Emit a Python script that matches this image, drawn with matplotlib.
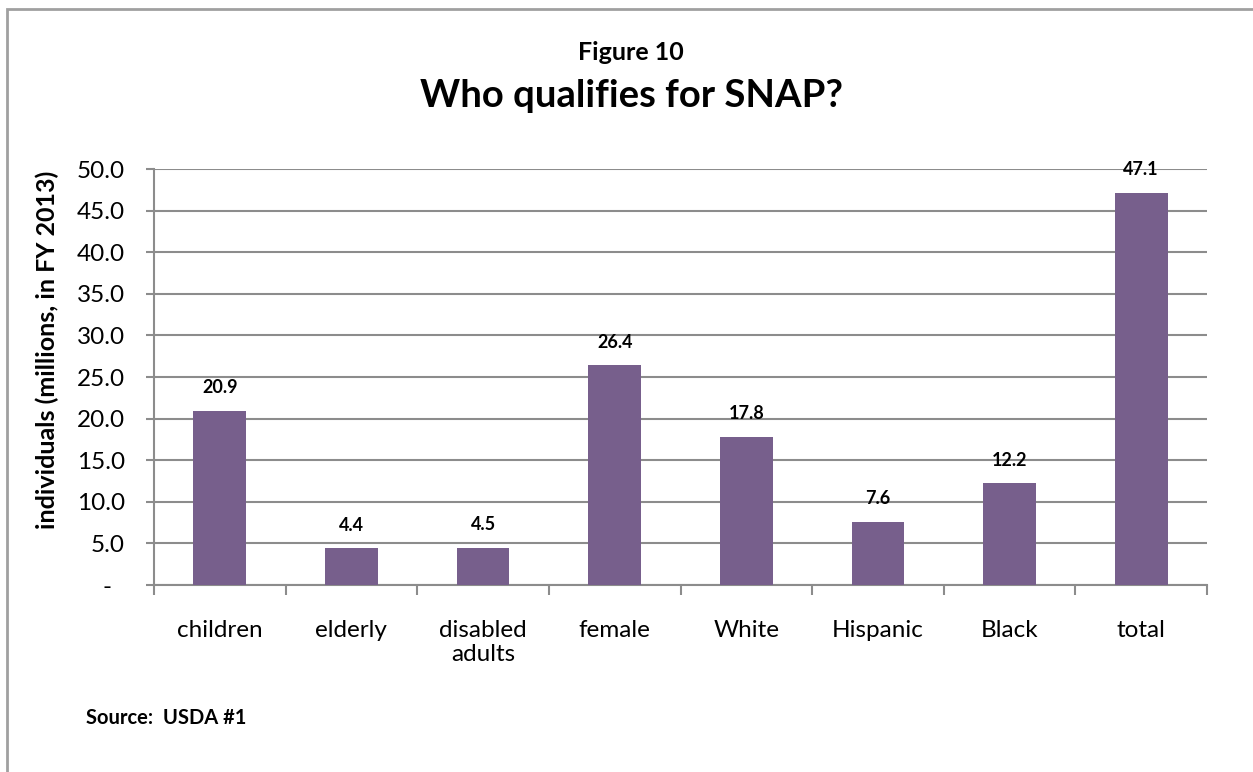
import matplotlib.pyplot as plt
import numpy as np
from matplotlib.patches import Rectangle
from matplotlib.ticker import FixedLocator

# data
categories = ["children", "elderly", "disabled\nadults", "female", "White", "Hispanic", "Black", "total"]
values = [20.9, 4.4, 4.5, 26.4, 17.8, 7.6, 12.2, 47.1]
yticks = [0, 5, 10, 15, 20, 25, 30, 35, 40, 45, 50]

BAR = "#775F8C"
GRID = "#8C8C8C"
W, H = 1253, 772

plt.rcParams["font.family"] = ["Lato", "DejaVu Sans"]

fig = plt.figure(figsize=(W / 100, H / 100), dpi=100)
ax = fig.add_axes([154 / W, 1 - 585 / H, (1207 - 154) / W, (585 - 169) / H])

# outer chart border (runs off the right and bottom edges)
fig.patches.append(Rectangle((7 / W, -0.05), 1.1, 1 - 9 / H + 0.05, transform=fig.transFigure,
                             fill=False, edgecolor="#A0A0A0", linewidth=2))

x = np.arange(len(categories))
ax.bar(x, values, width=0.4, color=BAR, zorder=3)
for xi, v in zip(x, values):
    ax.text(xi, v + 2.8, f"{v:.1f}", ha="center", va="center", fontsize=13, fontweight="bold")

ax.set_xlim(-0.5, len(categories) - 0.5)
ax.set_ylim(0, 50)
ax.set_yticks(yticks)
ax.set_yticklabels(["-  "] + [f"{t:.1f}" for t in yticks[1:]], fontsize=17.5)
ax.yaxis.grid(True, color=GRID, linewidth=1.5, zorder=0)
ax.tick_params(axis="y", length=6, width=1.5, color=GRID, pad=15)

ax.set_xticks(x)
ax.set_xticklabels(categories, fontsize=17.5)
ax.xaxis.set_minor_locator(FixedLocator(np.arange(-0.5, len(categories), 1)))
ax.tick_params(axis="x", which="major", length=0, pad=25)
ax.tick_params(axis="x", which="minor", length=7, width=1.5, color=GRID)

for s in ["top", "right"]:
    ax.spines[s].set_visible(False)
for s in ["left", "bottom"]:
    ax.spines[s].set_color(GRID)
    ax.spines[s].set_linewidth(1.5)

fig.text(47 / W, 1 - 350 / H, "individuals (millions, in FY 2013)", rotation=90,
         ha="center", va="center", fontsize=18, fontweight="bold")

fig.text(631 / W, 1 - 60 / H, "Figure 10", ha="center", va="baseline", fontsize=18, fontweight="bold")
fig.text(632 / W, 1 - 107 / H, "Who qualifies for SNAP?", ha="center", va="baseline", fontsize=27.5, fontweight="bold")
fig.text(86 / W, 1 - 724 / H, "Source:  USDA #1", ha="left", va="baseline", fontsize=14.5, fontweight="bold")

fig.savefig("out.png", dpi=100)
